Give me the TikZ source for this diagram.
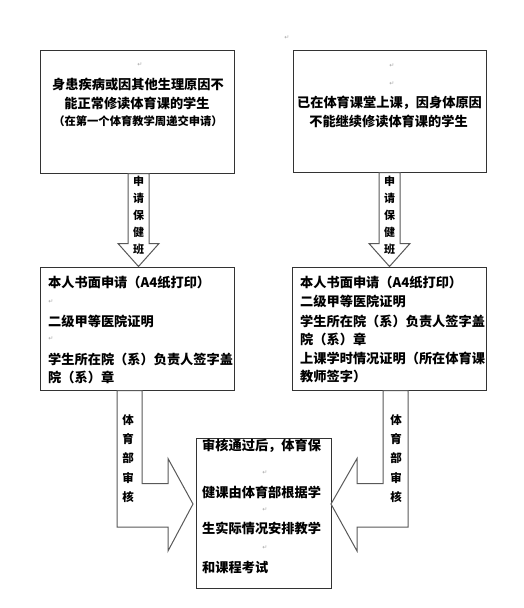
\documentclass[tikz,border=0pt]{standalone}
\usepackage{fontspec}
\newfontfamily\cjk{Noto Sans CJK SC}
\newfontfamily\sym{DejaVu Sans}
\usetikzlibrary{calc}
\begin{document}
\begin{tikzpicture}[x=1pt,y=-1pt,
  box/.style={draw=black!80, line width=1pt, inner sep=0pt},
  arr/.style={draw=black!65, line width=1pt, fill=white, line join=miter},
  txt/.style={font=\cjk\bfseries\fontsize{13.2}{13.2}\selectfont, inner sep=0pt, anchor=west},
  small/.style={font=\cjk\bfseries\fontsize{11.3}{11.3}\selectfont, inner sep=0pt},
  vlab/.style={font=\cjk\bfseries\fontsize{11}{17}\selectfont, align=center, inner sep=0pt},
  vlab2/.style={font=\cjk\bfseries\fontsize{11.5}{19.3}\selectfont, align=center, inner sep=0pt},
  ret/.style={font=\sym\fontsize{6}{6}\selectfont, text=black!35, inner sep=0pt}]
\useasboundingbox[fill=white] (0,0) rectangle (524,608);

% boxes
\node[box, minimum width=194pt, minimum height=123pt] (b1) at (137,111.5) {};
\node[box, minimum width=193pt, minimum height=122pt] (b2) at (389.5,111) {};
\node[box, minimum width=194pt, minimum height=123pt] (b3) at (137,328.5) {};
\node[box, minimum width=194pt, minimum height=123pt] (b4) at (389.5,328.5) {};
\node[box, minimum width=135pt, minimum height=150pt] (b5) at (263.5,513) {};

\coordinate (tipL) at (193,504);
\coordinate (tipR) at (331,504);

% down arrows
\draw[arr] ([xshift=-9pt]b1.south) -- ++(0,70) -- ++(-10,0) -- ([xshift=1.5pt]b3.north)
  -- ++(20.5,-23) -- ++(-10,0) -- ([xshift=12pt]b1.south) -- cycle;
\draw[arr] ([xshift=-10.5pt]b2.south) -- ++(0,71) -- ++(-10,0) -- (b4.north)
  -- ++(20.5,-23) -- ++(-10,0) -- ([xshift=10.5pt]b2.south) -- cycle;

% bent arrows
\draw[arr] ([xshift=5pt]b3.south) -- ++(0,93) -- ++(26,0) -- ++(0,-25) -- (tipL)
  -- ++(-25,47) -- ++(0,-24) -- ++(-51,0) -- ([xshift=-20pt]b3.south) -- cycle;
\draw[arr] ([xshift=-6.5pt]b4.south) -- ++(0,93) -- ++(-26,0) -- ++(0,-25) -- (tipR)
  -- ++(26,47) -- ++(0,-24) -- ++(51,0) -- ([xshift=18.5pt]b4.south) -- cycle;

% arrow labels
\node[vlab] (l1) at (138.5,215.5) {申\\请\\保\\健\\班};
\node[vlab] (l2) at (389.5,215.5) {申\\请\\保\\健\\班};
\node[vlab2] (l3) at (128,458.5) {体\\育\\部\\审\\核};
\node[vlab2] (l4) at (396,458.5) {体\\育\\部\\审\\核};

% top-left box text
\node[ret] (r1) at (140,65) {↵};
\node[txt, anchor=center] (t1) at (138,85) {身患疾病或因其他生理原因不};
\node[txt, anchor=center] (t2) at (137,103) {能正常修读体育课的学生};
\node[small, anchor=center] (t3) at (138,121) {（在第一个体育教学周递交申请）};

% top-right box text
\node[ret] (r0) at (287,38) {↵};
\node[ret] (r2) at (392,66) {↵};
\node[ret] (r3) at (392,84) {↵};
\node[txt, anchor=center] (t4) at (389.5,103) {已在体育课堂上课，因身体原因};
\node[txt, anchor=center] (t5) at (388.5,121) {不能继续修读体育课的学生};

% middle-left box text
\node[txt] (t6) at (48,282) {本人书面申请（A4纸打印）};
\node[ret] (r4) at (51,302) {↵};
\node[txt] (t7) at (48,321) {二级甲等医院证明};
\node[ret] (r5) at (51,339) {↵};
\node[txt] (t8) at (48,359) {学生所在院（系）负责人签字盖};
\node[txt] (t9) at (48,377) {院（系）章};

% middle-right box text
\node[txt] (t10) at (300,282) {本人书面申请（A4纸打印）};
\node[txt] (t11) at (300,301) {二级甲等医院证明};
\node[txt] (t12) at (300,321) {学生所在院（系）负责人签字盖};
\node[txt] (t13) at (300,339) {院（系）章};
\node[txt] (t14) at (300,358) {上课学时情况证明（所在体育课};
\node[txt] (t15) at (300,376) {教师签字）};

% center box text
\node[txt] (t16) at (202,446) {审核通过后，体育保};
\node[ret] (r6) at (265,473) {↵};
\node[txt] (t17) at (202,492) {健课由体育部根据学};
\node[ret] (r7) at (265,510) {↵};
\node[txt] (t18) at (202,528) {生实际情况安排教学};
\node[ret] (r8) at (265,548) {↵};
\node[txt] (t19) at (202,567) {和课程考试};
\end{tikzpicture}
\end{document}
